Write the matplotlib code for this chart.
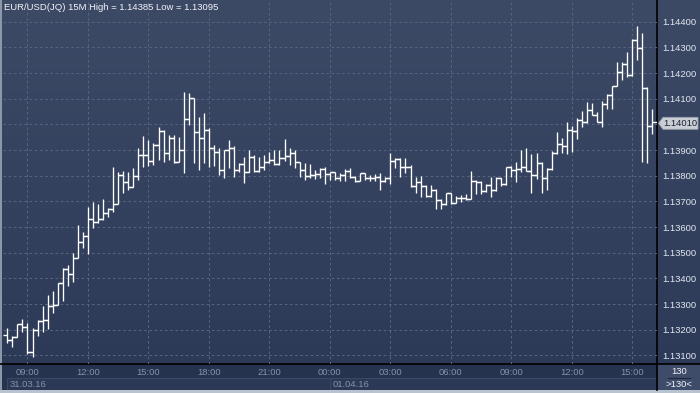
import numpy as np
import pandas as pd
import matplotlib
matplotlib.use("Agg")
import matplotlib.pyplot as plt
from matplotlib.patches import Rectangle, Polygon

# ---------------- data (EUR/USD 15M) ----------------
start_time = "2016-03-31 08:00"
opens = [1.13178, 1.13160, 1.13173, 1.13222, 1.13209, 1.13114, 1.13199, 1.13234, 1.13238, 1.13294,
         1.13296, 1.13381, 1.13437, 1.13416, 1.13478, 1.13541, 1.13566, 1.13631, 1.13619, 1.13631,
         1.13654, 1.13669, 1.13690, 1.13803, 1.13777, 1.13755, 1.13799, 1.13881, 1.13881, 1.13859,
         1.13920, 1.13974, 1.13888, 1.13946, 1.13855, 1.13900, 1.14020, 1.14102, 1.13969, 1.13948,
         1.13978, 1.13909, 1.13894, 1.13822, 1.13900, 1.13909, 1.13822, 1.13844, 1.13813, 1.13874,
         1.13820, 1.13833, 1.13852, 1.13861, 1.13846, 1.13868, 1.13878, 1.13887, 1.13852, 1.13822,
         1.13800, 1.13803, 1.13805, 1.13826, 1.13807, 1.13813, 1.13790, 1.13803, 1.13818, 1.13794,
         1.13781, 1.13809, 1.13790, 1.13790, 1.13796, 1.13779, 1.13790, 1.13857, 1.13864, 1.13833,
         1.13835, 1.13760, 1.13777, 1.13760, 1.13721, 1.13744, 1.13705, 1.13689, 1.13731, 1.13695,
         1.13712, 1.13712, 1.13710, 1.13779, 1.13777, 1.13740, 1.13764, 1.13744, 1.13790, 1.13767,
         1.13835, 1.13822, 1.13826, 1.13835, 1.13818, 1.13803, 1.13848, 1.13790, 1.13826, 1.13887,
         1.13922, 1.13916, 1.13978, 1.13974, 1.14017, 1.14008, 1.14056, 1.14037, 1.14008, 1.14078,
         1.14114, 1.14150, 1.14205, 1.14235, 1.14192, 1.14329, 1.14296, 1.14141, 1.13994]
highs = [1.13206, 1.13176, 1.13222, 1.13241, 1.13227, 1.13206, 1.13238, 1.13292, 1.13335, 1.13351,
         1.13381, 1.13439, 1.13452, 1.13500, 1.13608, 1.13582, 1.13679, 1.13696, 1.13689, 1.13709,
         1.13673, 1.13835, 1.13816, 1.13818, 1.13816, 1.13829, 1.13907, 1.13955, 1.13939, 1.13927,
         1.13990, 1.13978, 1.13959, 1.13959, 1.13952, 1.14127, 1.14121, 1.14104, 1.14030, 1.14043,
         1.13987, 1.13920, 1.13908, 1.13900, 1.13939, 1.13915, 1.13850, 1.13874, 1.13900, 1.13881,
         1.13874, 1.13881, 1.13894, 1.13900, 1.13900, 1.13942, 1.13908, 1.13900, 1.13855, 1.13848,
         1.13844, 1.13822, 1.13831, 1.13835, 1.13816, 1.13815, 1.13809, 1.13825, 1.13829, 1.13799,
         1.13812, 1.13812, 1.13803, 1.13807, 1.13812, 1.13796, 1.13887, 1.13870, 1.13868, 1.13870,
         1.13842, 1.13796, 1.13799, 1.13764, 1.13764, 1.13748, 1.13708, 1.13731, 1.13734, 1.13722,
         1.13725, 1.13729, 1.13818, 1.13782, 1.13779, 1.13768, 1.13796, 1.13796, 1.13792, 1.13835,
         1.13838, 1.13855, 1.13900, 1.13907, 1.13883, 1.13887, 1.13855, 1.13831, 1.13896, 1.13969,
         1.13948, 1.14010, 1.13995, 1.14026, 1.14052, 1.14086, 1.14082, 1.14047, 1.14091, 1.14117,
         1.14150, 1.14244, 1.14244, 1.14282, 1.14333, 1.14385, 1.14355, 1.14145, 1.14059]
lows = [1.13149, 1.13134, 1.13170, 1.13192, 1.13104, 1.13095, 1.13177, 1.13192, 1.13203, 1.13264,
        1.13296, 1.13313, 1.13371, 1.13387, 1.13478, 1.13518, 1.13495, 1.13595, 1.13615, 1.13627,
        1.13638, 1.13660, 1.13690, 1.13731, 1.13744, 1.13755, 1.13783, 1.13833, 1.13838, 1.13842,
        1.13861, 1.13855, 1.13861, 1.13850, 1.13855, 1.13809, 1.13998, 1.13848, 1.13822, 1.13848,
        1.13835, 1.13838, 1.13803, 1.13792, 1.13829, 1.13796, 1.13815, 1.13773, 1.13813, 1.13813,
        1.13816, 1.13822, 1.13850, 1.13842, 1.13842, 1.13857, 1.13842, 1.13829, 1.13796, 1.13783,
        1.13790, 1.13787, 1.13790, 1.13767, 1.13783, 1.13783, 1.13781, 1.13781, 1.13790, 1.13777,
        1.13779, 1.13783, 1.13779, 1.13781, 1.13744, 1.13777, 1.13768, 1.13829, 1.13796, 1.13809,
        1.13757, 1.13731, 1.13716, 1.13716, 1.13716, 1.13669, 1.13669, 1.13685, 1.13689, 1.13692,
        1.13699, 1.13705, 1.13708, 1.13728, 1.13729, 1.13738, 1.13718, 1.13740, 1.13761, 1.13765,
        1.13796, 1.13777, 1.13816, 1.13818, 1.13731, 1.13787, 1.13731, 1.13744, 1.13822, 1.13883,
        1.13890, 1.13883, 1.13891, 1.13943, 1.13991, 1.14005, 1.14037, 1.14008, 1.13991, 1.14060,
        1.14059, 1.14150, 1.14173, 1.14185, 1.14188, 1.14251, 1.13855, 1.13848, 1.13962]
closes = [1.13160, 1.13173, 1.13222, 1.13209, 1.13114, 1.13199, 1.13234, 1.13238, 1.13294, 1.13296,
          1.13381, 1.13437, 1.13416, 1.13478, 1.13541, 1.13566, 1.13631, 1.13619, 1.13631, 1.13654,
          1.13669, 1.13690, 1.13803, 1.13777, 1.13755, 1.13799, 1.13881, 1.13881, 1.13859, 1.13920,
          1.13974, 1.13888, 1.13946, 1.13855, 1.13900, 1.14020, 1.14102, 1.13969, 1.13948, 1.13978,
          1.13909, 1.13894, 1.13822, 1.13900, 1.13909, 1.13822, 1.13844, 1.13813, 1.13874, 1.13820,
          1.13833, 1.13852, 1.13861, 1.13846, 1.13868, 1.13878, 1.13887, 1.13852, 1.13822, 1.13800,
          1.13803, 1.13805, 1.13826, 1.13807, 1.13813, 1.13790, 1.13803, 1.13818, 1.13794, 1.13781,
          1.13809, 1.13790, 1.13790, 1.13796, 1.13779, 1.13790, 1.13857, 1.13864, 1.13833, 1.13835,
          1.13760, 1.13777, 1.13760, 1.13721, 1.13744, 1.13705, 1.13689, 1.13731, 1.13695, 1.13712,
          1.13712, 1.13710, 1.13779, 1.13777, 1.13740, 1.13764, 1.13744, 1.13790, 1.13767, 1.13835,
          1.13822, 1.13826, 1.13835, 1.13818, 1.13803, 1.13848, 1.13790, 1.13826, 1.13887, 1.13922,
          1.13916, 1.13978, 1.13974, 1.14017, 1.14008, 1.14056, 1.14037, 1.14008, 1.14078, 1.14114,
          1.14150, 1.14205, 1.14235, 1.14192, 1.14329, 1.14296, 1.14141, 1.13994, 1.14010]

price_ticks = [1.131, 1.132, 1.133, 1.134, 1.135, 1.136, 1.137, 1.138, 1.139, 1.140,
               1.141, 1.142, 1.143, 1.144]
# the 1.14000 label is covered by the last-price marker in the reference
price_labels = ["1.13100", "1.13200", "1.13300", "1.13400", "1.13500", "1.13600", "1.13700",
                "1.13800", "1.13900", "", "1.14100", "1.14200", "1.14300", "1.14400"]
date_labels = ["31.03.16", "01.04.16"]
title_text = "EUR/USD(JQ) 15M High = 1.14385 Low = 1.13095"
last_label = "1.14010"
count_top = "130"
count_bottom = ">130<"

# ---------------- layout ----------------
W, H = 700, 393
FONT = "Liberation Sans"
fig = plt.figure(figsize=(W / 100, H / 100), dpi=100)

# background chrome axes in pixel coordinates
bg = fig.add_axes([0, 0, 1, 1])
bg.set_xlim(0, W)
bg.set_ylim(H, 0)
bg.axis("off")
top_c = np.array([61, 74, 102]) / 255
bot_c = np.array([44, 58, 88]) / 255
grad = np.linspace(0, 1, 256)[:, None, None]
img = top_c[None, None, :] * (1 - grad) + bot_c[None, None, :] * grad
bg.imshow(img, extent=(0, W, 364, 0), aspect="auto", zorder=0, interpolation="bilinear")
bg.add_patch(Rectangle((0, 364), 657, 27, facecolor="#26334f", edgecolor="none", zorder=1))
bg.add_patch(Rectangle((7, 378), 650, 12, facecolor="#2b3956", edgecolor="#3b4965", lw=0.8, zorder=2))
bg.plot([330, 330], [378, 390], color="#3b4965", lw=0.8, zorder=3)
bg.add_patch(Rectangle((657, 364), 43, 27, facecolor="#3e4c6a", edgecolor="none", zorder=1))
bg.add_patch(Rectangle((0, 390), W, 3, facecolor="#b9c3cf", edgecolor="none", zorder=4))
bg.add_patch(Rectangle((0, 0), 2, 390, facecolor="#8d97aa", edgecolor="none", zorder=4))
bg.plot([657, 657], [0, 390], color="#000000", lw=1.2, zorder=5)
bg.plot([0, W], [364, 364], color="#000000", lw=1.2, zorder=5)
bg.plot([668, 690], [378, 378], color="#1c2436", lw=0.8, zorder=5)

# main price axes
ax = fig.add_axes([3 / W, (H - 364) / H, 654 / W, 364 / H])
ax.patch.set_alpha(0)
for s in ax.spines.values():
    s.set_visible(False)

n = len(closes)
times = pd.date_range(start_time, periods=n, freq="15min")
x = np.arange(n)
ax.set_xlim(-0.853, 128.9)
ax.set_ylim(1.130665, 1.144845)

tick_idx = [i for i, t in enumerate(times) if t.minute == 0 and t.hour % 3 == 0]
ax.set_xticks(tick_idx)
ax.set_xticklabels([times[i].strftime("%H:%M") for i in tick_idx])
ax.set_yticks(price_ticks)
ax.set_yticklabels(price_labels)
ax.yaxis.tick_right()
ax.tick_params(axis="x", length=0, pad=3.2, labelsize=6.8, labelcolor="#8591a8")
ax.tick_params(axis="y", length=0, pad=3.8, labelsize=6.8, labelcolor="#e3e8f0")
for lab in ax.get_xticklabels() + ax.get_yticklabels():
    lab.set_fontfamily(FONT)
ax.grid(True, color="#56647d", lw=0.75, linestyle=(0, (2.5, 2.5)), zorder=0)

o = np.array(opens)
c = np.array(closes)
tick_len = 0.86
ax.vlines(x, lows, highs, color="white", lw=0.95, zorder=3)
ax.hlines(o, x - tick_len, x, color="white", lw=0.95, zorder=3)
ax.hlines(c, x, x + tick_len, color="white", lw=0.95, zorder=3)

# texts
def fx(px):
    return px / W

def fy(py):
    return 1 - py / H

fig.text(fx(4), fy(7.5), title_text, fontsize=6.8, color="#f2f4f8", family=FONT, va="center", ha="left")
fig.text(fx(10), fy(384.5), date_labels[0], fontsize=6.8, color="#8591a8", family=FONT, va="center", ha="left")
fig.text(fx(333), fy(384.5), date_labels[1], fontsize=6.8, color="#8591a8", family=FONT, va="center", ha="left")
fig.text(fx(679), fy(371.5), count_top, fontsize=6.8, color="#f2f4f8", family=FONT, va="center", ha="center")
fig.text(fx(679), fy(384.5), count_bottom, fontsize=6.8, color="#f2f4f8", family=FONT, va="center", ha="center")

# last price marker
ly = ax.transData.transform((0, closes[-1]))[1]
ly_px = H - ly + 1.5
marker = Polygon([[658.5, ly_px], [663, ly_px - 6], [698, ly_px - 6], [698, ly_px + 6], [663, ly_px + 6]],
                 closed=True, facecolor="#c9cdd4", edgecolor="#9aa1ad", lw=0.6, zorder=6)
bg.add_patch(marker)
fig.text(fx(680.5), fy(ly_px), last_label, fontsize=6.8, color="#1b2233", family=FONT,
         va="center", ha="center", zorder=7)

fig.savefig("out.png", dpi=100)
